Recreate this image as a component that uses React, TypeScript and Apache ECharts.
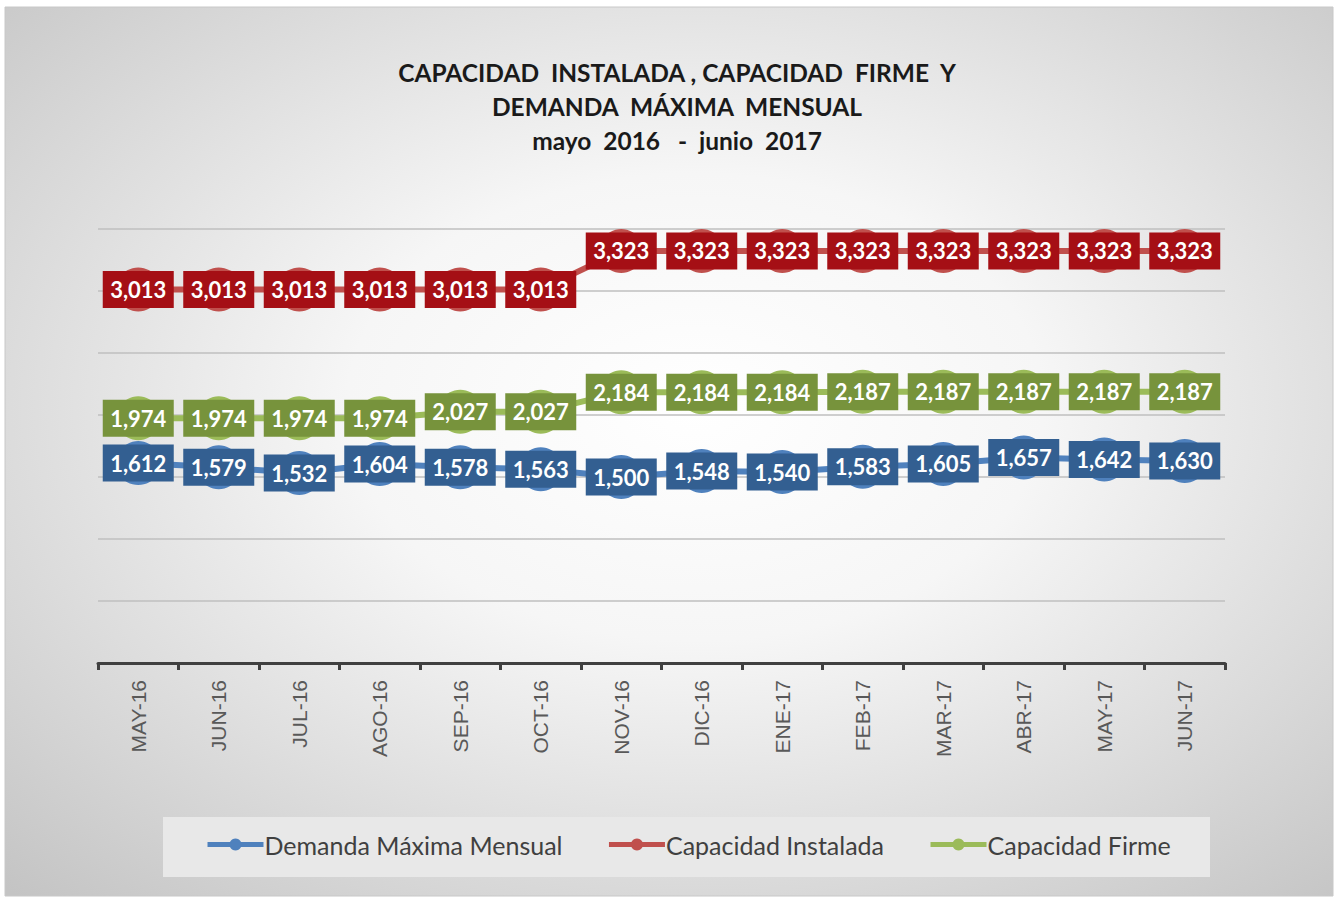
import React, { useEffect, useRef } from "react";
import * as echarts from "echarts";

const categories = ["MAY-16","JUN-16","JUL-16","AGO-16","SEP-16","OCT-16","NOV-16","DIC-16","ENE-17","FEB-17","MAR-17","ABR-17","MAY-17","JUN-17"];
const demanda = [1612,1579,1532,1604,1578,1563,1500,1548,1540,1583,1605,1657,1642,1630];
const instalada = [3013,3013,3013,3013,3013,3013,3323,3323,3323,3323,3323,3323,3323,3323];
const firme = [1974,1974,1974,1974,2027,2027,2184,2184,2184,2187,2187,2187,2187,2187];
const titleText = "CAPACIDAD  INSTALADA , CAPACIDAD  FIRME  Y\nDEMANDA  MÁXIMA  MENSUAL\nmayo  2016   -  junio  2017";

const fmt = (p: any) => Number(p.value).toLocaleString("en-US");

function mkSeries(name: string, data: number[], line: string, box: string, z: number) {
  return {
    name,
    type: "line",
    data,
    z,
    symbol: "circle",
    symbolSize: 44,
    lineStyle: { color: line, width: 6 },
    itemStyle: { color: line },
    label: {
      show: true,
      position: "inside",
      formatter: fmt,
      color: "#ffffff",
      fontFamily: "Lato",
      fontWeight: "bold",
      fontSize: 22,
      backgroundColor: box,
      padding: [8, 8, 7, 8],
      width: 55,
      align: "center",
    },
    emphasis: { disabled: true },
  };
}

export default function App() {
  const ref = useRef<HTMLDivElement>(null);
  useEffect(() => {
    const chart = echarts.init(ref.current!, null, { renderer: "svg" });
    chart.setOption({
      animation: false,
      backgroundColor: "#ffffff",
      graphic: [
        {
          type: "rect",
          z: -10,
          shape: { x: 5, y: 7, width: 1328, height: 889 },
          style: {
            fill: new echarts.graphic.RadialGradient(0.52, 0.45, 0.75, [
              { offset: 0, color: "#ffffff" },
              { offset: 0.35, color: "#f6f6f6" },
              { offset: 1, color: "#c4c4c4" },
            ]),
            stroke: "#c8c8c8",
            lineWidth: 1,
          },
        },
        {
          type: "rect",
          z: -5,
          shape: { x: 163, y: 817, width: 1047, height: 60 },
          style: { fill: "#e8e8e8" },
        },
        {
          type: "text",
          x: 677,
          y: 55,
          style: {
            text: titleText,
            textAlign: "center",
            fontFamily: "Lato",
            fontWeight: "bold",
            fontSize: 24.5,
            lineHeight: 34,
            fill: "#1a1a1a",
          },
        },
      ],
      legend: {
        show: true,
        left: 200,
        top: 827,
        itemWidth: 56,
        itemHeight: 15,
        itemGap: 44,
        lineStyle: { width: 5 },
        textStyle: { fontFamily: "Lato", fontSize: 25, color: "#404040", padding: [0, 0, 0, -4] },
        data: ["Demanda Máxima Mensual", "Capacidad Instalada", "Capacidad Firme"],
      },
      grid: { left: 98, right: 113, top: 229, bottom: 235, containLabel: false },
      xAxis: {
        type: "category",
        data: categories,
        boundaryGap: true,
        axisLine: { lineStyle: { color: "#404040", width: 3 } },
        axisTick: { show: true, length: 7, lineStyle: { color: "#404040", width: 3 } },
        axisLabel: {
          rotate: 90,
          margin: 17,
          color: "#595959",
          fontFamily: "Liberation Sans",
          fontSize: 21,
        },
      },
      yAxis: {
        type: "value",
        min: 0,
        max: 3500,
        interval: 500,
        axisLabel: { show: false },
        axisLine: { show: false },
        axisTick: { show: false },
        splitLine: { lineStyle: { color: "#bfbfbf", width: 1.5 } },
      },
      series: [
        mkSeries("Demanda Máxima Mensual", demanda, "#4F81BD", "#335F91", 3),
        mkSeries("Capacidad Instalada", instalada, "#C0504D", "#A50F15", 3),
        mkSeries("Capacidad Firme", firme, "#9BBB59", "#77933C", 3),
      ],
    });
    return () => chart.dispose();
  }, []);
  return (
    <div
      ref={ref}
      style={{ position: "fixed", left: 0, top: 0, width: 1338, height: 898 }}
    />
  );
}
